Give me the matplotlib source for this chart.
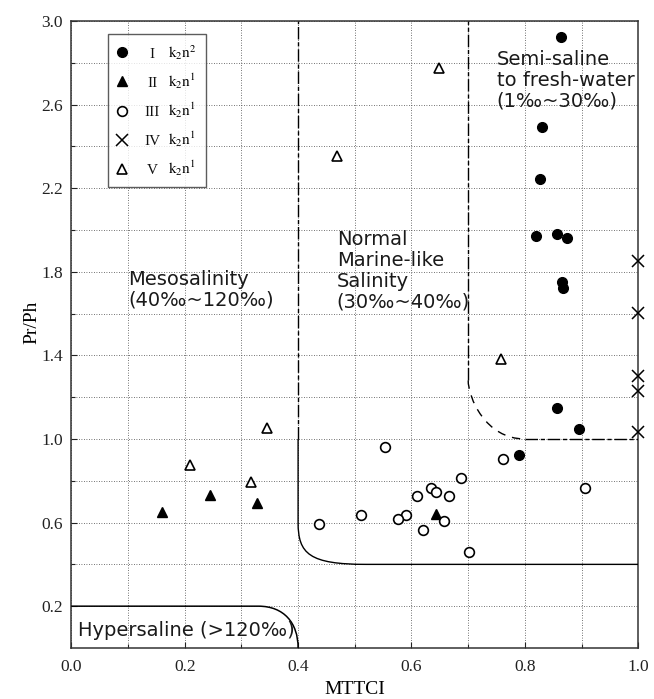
import matplotlib
matplotlib.use('Agg')
import matplotlib.pyplot as plt
import matplotlib.ticker as tck
from matplotlib.path import Path
from matplotlib.patches import PathPatch
from matplotlib.lines import Line2D
from matplotlib.text import Text
from matplotlib.legend_handler import HandlerBase

matplotlib.rc('font', **{'family': 'serif', 'serif': ['Liberation Serif', 'DejaVu Serif']})
matplotlib.rc('mathtext', fontset='stix')
sansfont = ['DejaVu Sans']

# group I  (k2n2) filled circles
g1_x = [0.864, 0.830, 0.827, 0.819, 0.857, 0.875, 0.865, 0.868, 0.857, 0.895, 0.789]
g1_y = [2.923, 2.493, 2.243, 1.970, 1.983, 1.962, 1.752, 1.720, 1.146, 1.050, 0.925]
# group II filled triangles
g2_x = [0.160, 0.245, 0.327, 0.643]
g2_y = [0.652, 0.732, 0.692, 0.639]
# group III open circles
g3_x = [0.436, 0.554, 0.761, 0.688, 0.634, 0.644, 0.610, 0.666, 0.906,
        0.511, 0.591, 0.577, 0.658, 0.620, 0.702]
g3_y = [0.592, 0.961, 0.902, 0.814, 0.764, 0.747, 0.725, 0.725, 0.764,
        0.636, 0.636, 0.615, 0.607, 0.564, 0.459]
# group IV crosses
g4_x = [1.0, 1.0, 1.0, 1.0, 1.0]
g4_y = [1.852, 1.604, 1.301, 1.231, 1.034]
# group V open triangles
g5_x = [0.210, 0.317, 0.346, 0.468, 0.648, 0.758]
g5_y = [0.875, 0.795, 1.051, 2.354, 2.775, 1.385]

numerals = ['I', 'II', 'III', 'IV', 'V']
powers = ['2', '1', '1', '1', '1']

# region boundaries (vertices + bezier control points)
hyper_verts = [(0.0, 0.2), (0.33, 0.2), (0.375, 0.2), (0.40, 0.12), (0.40, 0.0)]
normal_verts = [(0.4, 1.0), (0.4, 0.6), (0.4, 0.45), (0.42, 0.4), (0.52, 0.4), (1.0, 0.4)]
fresh_curve = [(0.7, 1.28), (0.7, 1.2), (0.73, 1.0), (0.8, 1.0)]
fresh_flat = [(0.8, 1.0), (1.0, 1.0)]
meso_line = [(0.4, 1.0), (0.4, 3.0)]
fresh_line = [(0.7, 1.28), (0.7, 3.0)]


class MarkerNumeral(HandlerBase):
    # legend handle = marker followed by a centred roman numeral
    def __init__(self, numeral, **kw):
        super().__init__(**kw)
        self.numeral = numeral

    def create_artists(self, legend, orig_handle, xdescent, ydescent,
                       width, height, fontsize, trans):
        m = Line2D([0.12 * width - xdescent], [height / 2 - ydescent])
        m.update_from(orig_handle)
        m.set_transform(trans)
        t = Text(0.83 * width - xdescent, -ydescent, self.numeral, ha='center', va='baseline',
                 fontsize=fontsize, family='serif', color='#111111')
        t.set_transform(trans)
        return [m, t]


fig, ax = plt.subplots(figsize=(6.54, 6.99), dpi=100)
fig.subplots_adjust(left=0.109, right=0.976, top=0.970, bottom=0.073)

ax.set_xlim(0, 1.0)
ax.set_ylim(0, 3.0)
ax.xaxis.set_major_locator(tck.MultipleLocator(0.2))
ax.xaxis.set_minor_locator(tck.MultipleLocator(0.1))
ax.set_yticks([0.2, 0.6, 1.0, 1.4, 1.8, 2.2, 2.6, 3.0])
ax.set_yticks([0.4, 0.8, 1.2, 1.6, 2.0, 2.4, 2.8], minor=True)
ax.xaxis.set_major_formatter(tck.FormatStrFormatter('%.1f'))
ax.yaxis.set_major_formatter(tck.FormatStrFormatter('%.1f'))
ax.tick_params(which='both', direction='in', labelsize=12.5, colors='#222222', length=4, width=0.8)
ax.tick_params(axis='x', which='both', pad=8)
ax.tick_params(axis='y', which='both', pad=6)
ax.tick_params(which='minor', length=3)
ax.grid(True, which='both', linestyle=(0, (1, 2)), color='#444444', linewidth=0.6)
for s in ax.spines.values():
    s.set_linewidth(1.1)
    s.set_color('#333333')

# boundaries
hp = Path(hyper_verts, [Path.MOVETO, Path.LINETO, Path.CURVE4, Path.CURVE4, Path.CURVE4])
ax.add_patch(PathPatch(hp, fill=False, lw=1.1, color='black', zorder=3))
np_ = Path(normal_verts, [Path.MOVETO, Path.LINETO, Path.CURVE4, Path.CURVE4, Path.CURVE4, Path.LINETO])
ax.add_patch(PathPatch(np_, fill=False, lw=1.0, color='black', zorder=3))
fp = Path(fresh_curve, [Path.MOVETO, Path.CURVE4, Path.CURVE4, Path.CURVE4])
ax.add_patch(PathPatch(fp, fill=False, lw=1.0, color='black', linestyle=(0, (6, 5)), zorder=3))
dashdot = (0, (9, 2, 3, 2))
for seg in [meso_line, fresh_line, fresh_flat]:
    ax.plot([p[0] for p in seg], [p[1] for p in seg], color='black', lw=1.0, linestyle=dashdot, zorder=3)

# data
ms = 7
ax.plot(g1_x, g1_y, 'o', color='black', ms=ms, zorder=4)
ax.plot(g2_x, g2_y, '^', color='black', ms=ms, zorder=4)
ax.plot(g3_x, g3_y, 'o', mfc='white', mec='black', mew=1.2, ms=ms, zorder=4)
ax.plot(g4_x, g4_y, 'x', color='black', mew=1.1, ms=9, zorder=4, clip_on=False)
ax.plot(g5_x, g5_y, '^', mfc='white', mec='black', mew=1.2, ms=ms, zorder=4)

# region labels
tk = dict(family=sansfont, fontsize=14, color='#1a1a1a', linespacing=1.12, zorder=5)
ax.text(0.10, 1.81, 'Mesosalinity\n(40‰~120‰)', va='top', ha='left', **tk)
ax.text(0.468, 2.0, 'Normal\nMarine-like\nSalinity\n(30‰~40‰)', va='top', ha='left', **tk)
ax.text(0.75, 2.86, 'Semi-saline\nto fresh-water\n(1‰~30‰)', va='top', ha='left', **tk)
ax.text(0.012, 0.085, 'Hypersaline (>120‰)', va='center', ha='left', **tk)

# legend
hmark = [Line2D([], [], ls='none', marker='o', color='black', ms=ms),
         Line2D([], [], ls='none', marker='^', color='black', ms=ms),
         Line2D([], [], ls='none', marker='o', mfc='white', mec='black', mew=1.2, ms=ms),
         Line2D([], [], ls='none', marker='x', color='black', mew=1.1, ms=9),
         Line2D([], [], ls='none', marker='^', mfc='white', mec='black', mew=1.2, ms=ms)]
labs = [r'$\mathrm{k_2n^%s}$' % w for w in powers]
hmap = {h: MarkerNumeral(n) for h, n in zip(hmark, numerals)}
leg = ax.legend(hmark, labs, handler_map=hmap, loc='upper left', bbox_to_anchor=(0.0645, 0.979),
                fontsize=11, frameon=True, fancybox=False, edgecolor='#333333',
                handlelength=2.8, handletextpad=0.55, labelspacing=0.64,
                borderpad=0.58, borderaxespad=0.0)
leg.get_frame().set_linewidth(1.0)
leg.set_zorder(6)

ax.set_xlabel('MTTCI', fontsize=14)
ax.xaxis.set_label_coords(0.5, -0.052)
ax.set_ylabel('Pr/Ph', fontsize=14)
ax.yaxis.set_label_coords(-0.055, 0.52)

plt.savefig('out.png', dpi=100)
